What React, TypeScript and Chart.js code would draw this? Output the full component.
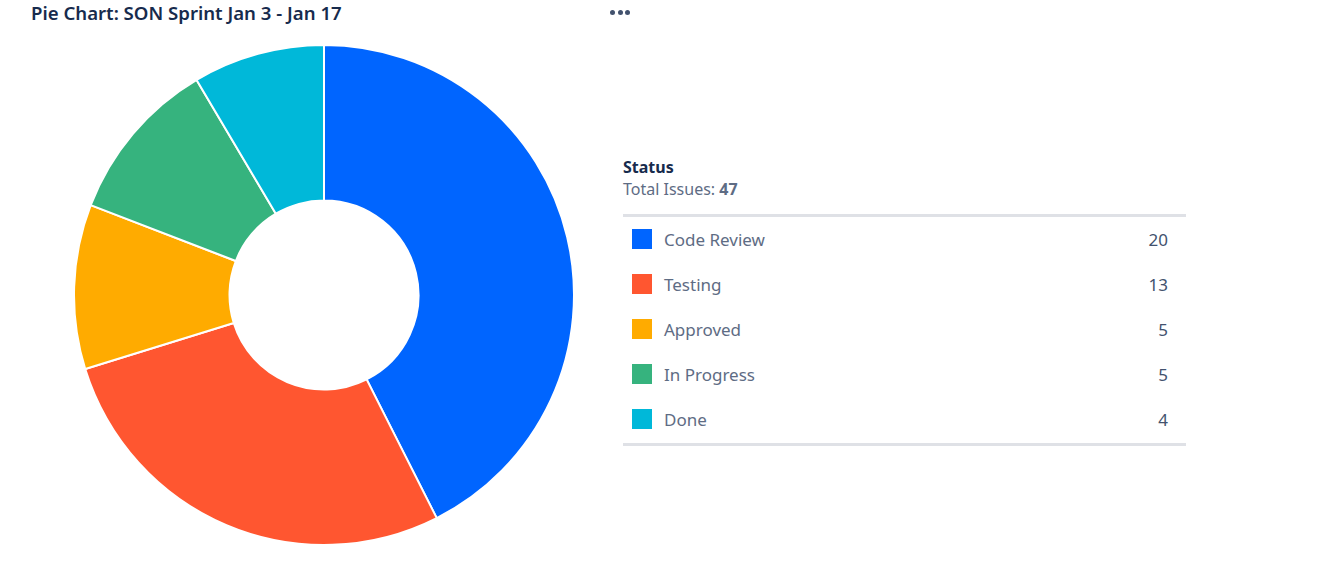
import React, { useEffect, useRef } from "react";
import { Chart, registerables } from "chart.js";

Chart.register(...registerables);

const title = "Pie Chart: SON Sprint Jan 3 - Jan 17";
const legendTitle = "Status";
const categories = ["Code Review", "Testing", "Approved", "In Progress", "Done"];
const values = [20, 13, 5, 5, 4];
const colors = ["#0065FF", "#FF5630", "#FFAB00", "#36B37E", "#00B8D9"];

const FONT = "'Noto Sans', 'Open Sans', sans-serif";

export default function App() {
  const canvasRef = useRef<HTMLCanvasElement | null>(null);

  useEffect(() => {
    const prevMargin = document.body.style.margin;
    document.body.style.margin = "0";
    const ctx = canvasRef.current!;
    const chart = new Chart(ctx, {
      type: "doughnut",
      data: {
        labels: categories,
        datasets: [
          {
            data: values,
            backgroundColor: colors,
            borderColor: "#ffffff",
            borderWidth: 2,
            hoverOffset: 0,
          },
        ],
      },
      options: {
        responsive: false,
        animation: false,
        maintainAspectRatio: false,
        cutout: "37.8%",
        layout: { padding: 0 },
        plugins: {
          legend: { display: false },
          tooltip: { enabled: false },
          title: { display: false },
        },
      },
    });
    return () => {
      chart.destroy();
      document.body.style.margin = prevMargin;
    };
  }, []);

  const total = values.reduce((a, b) => a + b, 0);

  return (
    <div
      style={{
        position: "absolute",
        left: 0,
        top: 0,
        width: 1319,
        height: 588,
        background: "#ffffff",
        fontFamily: FONT,
        overflow: "hidden",
      }}
    >
      <div
        style={{
          position: "absolute",
          left: 31,
          top: 0,
          fontSize: 18.6,
          fontWeight: 600,
          color: "#172B4D",
          whiteSpace: "nowrap",
          lineHeight: "26px",
        }}
      >
        {title}
      </div>
      {[0, 1, 2].map((k) => (
        <div
          key={k}
          style={{
            position: "absolute",
            left: 610 + k * 7.7,
            top: 10,
            width: 5,
            height: 5,
            borderRadius: "50%",
            background: "#42526E",
          }}
        />
      ))}
      <canvas
        ref={canvasRef}
        width={502}
        height={502}
        style={{ position: "absolute", left: 73, top: 44, width: 502, height: 502 }}
      />
      <div style={{ position: "absolute", left: 623, top: 156, width: 563 }}>
        <div style={{ fontSize: 16, fontWeight: 700, color: "#172B4D", lineHeight: "22px" }}>
          {legendTitle}
        </div>
        <div style={{ fontSize: 16, color: "#5E6C84", lineHeight: "22px" }}>
          Total Issues: <b style={{ fontWeight: 700 }}>{total}</b>
        </div>
        <div style={{ position: "absolute", left: 0, top: 58, width: 563, height: 3, background: "#DFE1E6" }} />
        {categories.map((c, i) => (
          <div
            key={c}
            style={{
              position: "absolute",
              left: 0,
              top: 61 + i * 45,
              width: 563,
              height: 45,
            }}
          >
            <div
              style={{
                position: "absolute",
                left: 9,
                top: 12,
                width: 20,
                height: 20,
                background: colors[i],
              }}
            />
            <div
              style={{
                position: "absolute",
                left: 41,
                top: 0,
                lineHeight: "45px",
                fontSize: 17,
                color: "#5E6C84",
                whiteSpace: "nowrap",
              }}
            >
              {c}
            </div>
            <div
              style={{
                position: "absolute",
                right: 18,
                top: 0,
                lineHeight: "45px",
                fontSize: 17,
                color: "#42526E",
              }}
            >
              {values[i]}
            </div>
          </div>
        ))}
        <div
          style={{
            position: "absolute",
            left: 0,
            top: 61 + categories.length * 45 + 1,
            width: 563,
            height: 3,
            background: "#DFE1E6",
          }}
        />
      </div>
    </div>
  );
}
